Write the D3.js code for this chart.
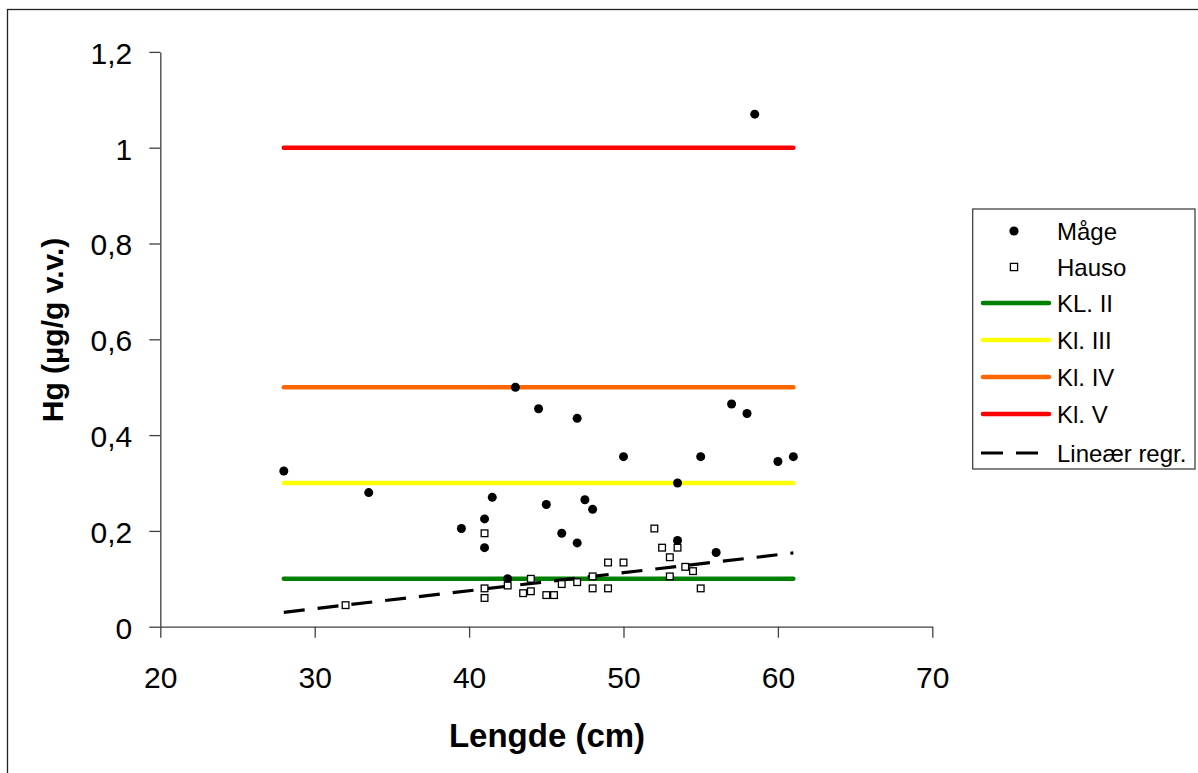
<!DOCTYPE html>
<html>
<head>
<meta charset="utf-8">
<script src="https://cdn.jsdelivr.net/npm/d3@7"></script>
<style>
  body { margin: 0; background: #fff; }
  svg { display: block; }
</style>
</head>
<body>
<script>
// Mercury (Hg, µg/g wet weight) against fish length (cm)
const mageLength = [28, 33.5, 39.5, 41, 41, 41.5, 42.5, 43, 44.5, 45, 46, 47, 47, 47.5, 48, 50, 53.5, 53.5, 55, 56, 57, 58, 58.5, 60, 61];
const mageHg     = [0.325, 0.28, 0.205, 0.225, 0.165, 0.27, 0.1, 0.5, 0.455, 0.255, 0.195, 0.435, 0.175, 0.265, 0.245, 0.355, 0.3, 0.18, 0.355, 0.155, 0.465, 0.445, 1.07, 0.345, 0.355];

const hausoLength = [32, 41, 41, 41, 42.5, 43.5, 44, 44, 45, 45.5, 46, 47, 48, 48, 49, 49, 50, 52, 52.5, 53, 53.5, 53, 54, 54.5, 55];
const hausoHg     = [0.045, 0.195, 0.08, 0.06, 0.086, 0.07, 0.1, 0.074, 0.066, 0.066, 0.089, 0.093, 0.105, 0.08, 0.134, 0.08, 0.134, 0.205, 0.165, 0.145, 0.165, 0.105, 0.125, 0.116, 0.08];

// Environmental quality class limits
const classNames  = ["KL. II", "Kl. III", "Kl. IV", "Kl. V"];
const classLimits = [0.1, 0.3, 0.5, 1.0];
const classColors = ["#008000", "#FFFF00", "#FF6600", "#FF0000"];
const classSpan   = [28, 61];

// Linear regression line (end points)
const regrLength = [28, 61];
const regrHg     = [0.030, 0.154];

const xTicks = [20, 30, 40, 50, 60, 70];
const yTicks = [0, 0.2, 0.4, 0.6, 0.8, 1, 1.2];
const yTickLabels = ["0", "0,2", "0,4", "0,6", "0,8", "1", "1,2"];

const W = 1198, H = 773;
const FONT = "'Liberation Sans', Arial, Helvetica, sans-serif";

const svg = d3.select("body").append("svg")
  .attr("width", W).attr("height", H)
  .style("font-family", FONT);

svg.append("rect").attr("width", W).attr("height", H).attr("fill", "#fff");

// outer chart frame
svg.append("rect")
  .attr("x", 7.5).attr("y", 9.5)
  .attr("width", 1220).attr("height", 820)
  .attr("fill", "none").attr("stroke", "#222").attr("stroke-width", 1.3);

const x = d3.scaleLinear().domain([20, 70]).range([160.3, 932.3]);
const y = d3.scaleLinear().domain([0, 1.2]).range([626.7, 51.9]);

// axes
const xAxis = d3.axisBottom(x).tickValues(xTicks).tickSize(11).tickSizeOuter(0).tickFormat(d3.format("d"));
const gx = svg.append("g").attr("transform", `translate(0,${y(0)})`).call(xAxis);
gx.selectAll("text").attr("y", 61.6).attr("dy", 0).style("font-size", "30px").attr("fill", "#000");

const yAxis = d3.axisLeft(y).tickValues(yTicks).tickSize(11).tickSizeOuter(0)
  .tickFormat((d, i) => yTickLabels[i]);
const gy = svg.append("g").attr("transform", `translate(${x(20)},0)`).call(yAxis);
gy.selectAll("text").attr("x", -28).attr("dy", "0.38em").style("font-size", "30px").attr("fill", "#000");

[gx, gy].forEach(g => {
  g.select(".domain").attr("stroke", "#404040").attr("stroke-width", 1.3);
  g.selectAll(".tick line").attr("stroke", "#404040").attr("stroke-width", 1.3);
  g.attr("font-family", FONT);
});

// axis titles
svg.append("text")
  .attr("x", 547).attr("y", 746.7)
  .attr("text-anchor", "middle")
  .style("font-size", "33px").style("font-weight", "bold")
  .text("Lengde (cm)");

svg.append("text")
  .attr("transform", "translate(63.3,330) rotate(-90)")
  .attr("text-anchor", "middle")
  .style("font-size", "30px").style("font-weight", "bold")
  .text("Hg (µg/g v.v.)");

const line = d3.line().x(d => x(d[0])).y(d => y(d[1]));

// class limit lines
classLimits.forEach((v, i) => {
  svg.append("path")
    .attr("d", line(classSpan.map(l => [l, v])))
    .attr("fill", "none")
    .attr("stroke", classColors[i])
    .attr("stroke-width", 4.5)
    .attr("stroke-linecap", "round");
});

// regression line
svg.append("path")
  .attr("d", line(regrLength.map((l, i) => [l, regrHg[i]])))
  .attr("fill", "none")
  .attr("stroke", "#000")
  .attr("stroke-width", 3.2)
  .attr("stroke-dasharray", "21,13");

// Måge points
svg.append("g").selectAll("circle")
  .data(mageLength.map((l, i) => [l, mageHg[i]]))
  .join("circle")
  .attr("cx", d => x(d[0])).attr("cy", d => y(d[1]))
  .attr("r", 4.5).attr("fill", "#000");

// Hauso points
const sq = 6.7;
svg.append("g").selectAll("rect")
  .data(hausoLength.map((l, i) => [l, hausoHg[i]]))
  .join("rect")
  .attr("x", d => x(d[0]) - sq / 2).attr("y", d => y(d[1]) - sq / 2)
  .attr("width", sq).attr("height", sq)
  .attr("fill", "#fff").attr("stroke", "#000").attr("stroke-width", 1.3);

// legend
const leg = svg.append("g");
leg.append("rect")
  .attr("x", 972.7).attr("y", 209).attr("width", 222.3).attr("height", 260)
  .attr("fill", "#fff").attr("stroke", "#333").attr("stroke-width", 1.2);

const legendLabels = ["Måge", "Hauso"].concat(classNames, ["Lineær regr."]);
const rowY = [231, 267, 303, 340, 377, 414, 453];
const symX0 = 981, symX1 = 1051, symCx = 1014, textX = 1057;

legendLabels.forEach((name, i) => {
  const cy = rowY[i];
  if (i === 0) {
    leg.append("circle").attr("cx", symCx).attr("cy", cy).attr("r", 4.6).attr("fill", "#000");
  } else if (i === 1) {
    leg.append("rect").attr("x", symCx - 3.6).attr("y", cy - 3.6).attr("width", 7.2).attr("height", 7.2)
      .attr("fill", "#fff").attr("stroke", "#000").attr("stroke-width", 1.3);
  } else if (i < 2 + classNames.length) {
    leg.append("line").attr("x1", symX0 + 2).attr("x2", symX1 - 2).attr("y1", cy).attr("y2", cy)
      .attr("stroke", classColors[i - 2]).attr("stroke-width", 4.5).attr("stroke-linecap", "round");
  } else {
    leg.append("line").attr("x1", symX0).attr("x2", symX1).attr("y1", cy).attr("y2", cy)
      .attr("stroke", "#000").attr("stroke-width", 3.2).attr("stroke-dasharray", "22,13");
  }
  leg.append("text")
    .attr("x", textX).attr("y", cy + 8.6)
    .style("font-size", "24px")
    .text(name);
});
</script>
</body>
</html>
